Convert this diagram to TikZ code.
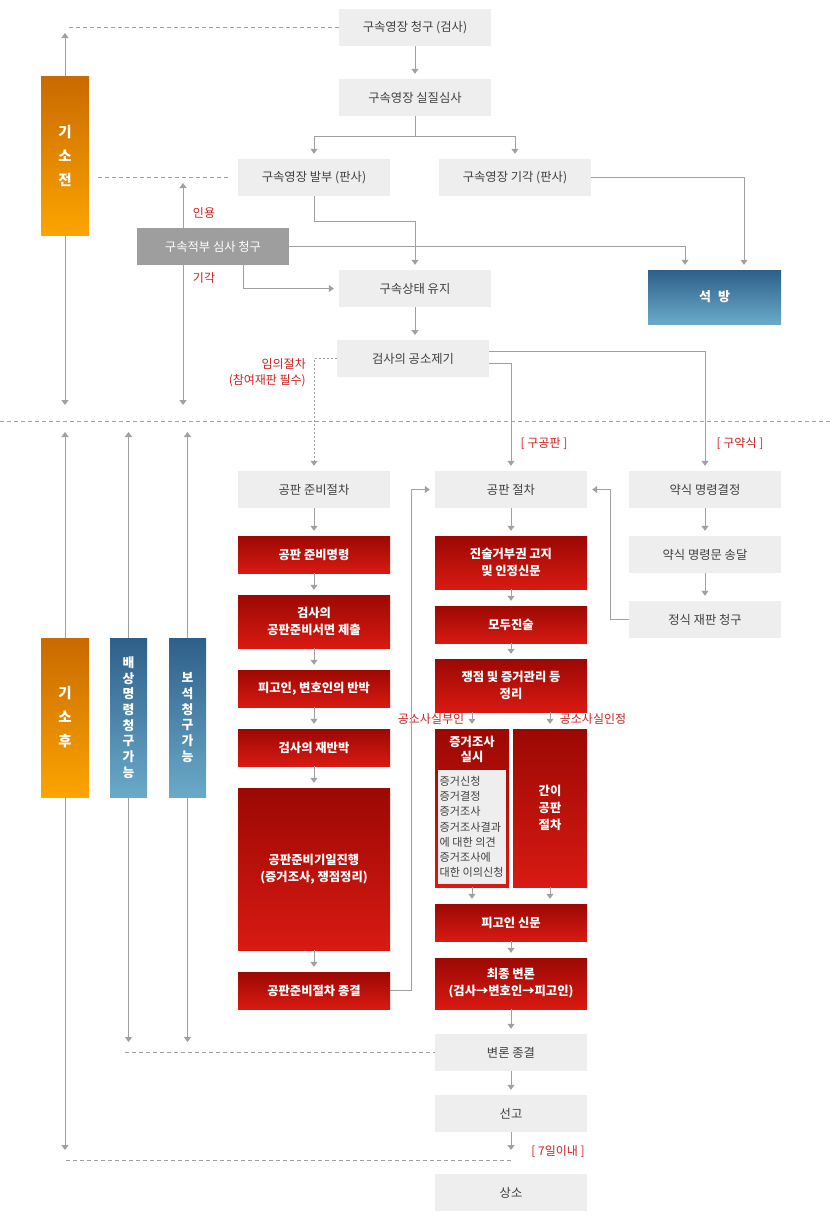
\documentclass[tikz,border=0pt]{standalone}
\usepackage{fontspec}
\setmainfont{Noto Sans CJK KR}
\usetikzlibrary{arrows.meta,shadings}
\definecolor{boxgray}{HTML}{EEEEEE}
\definecolor{txtgray}{HTML}{404040}
\definecolor{lgray}{HTML}{A0A0A0}
\definecolor{rtop}{HTML}{9C0804}
\definecolor{rbot}{HTML}{D81A12}
\definecolor{labred}{HTML}{CC2222}
\definecolor{otop}{HTML}{C86A00}
\definecolor{obot}{HTML}{FCA400}
\definecolor{btop}{HTML}{2E5F8A}
\definecolor{bbot}{HTML}{6AAAC8}
\definecolor{jbgray}{HTML}{9E9E9E}
\begin{document}
\begin{tikzpicture}[x=1pt,y=-1pt,
  gbox/.style={rectangle, fill=boxgray, text=txtgray, minimum width=152pt, minimum height=37pt, inner sep=0pt, align=center, font=\fontsize{12.3}{16}\selectfont},
  rbox/.style={rectangle, top color=rtop, bottom color=rbot, text=white, minimum width=152pt, minimum height=37pt, inner sep=0pt, align=center, font=\bfseries\fontsize{12.3}{17}\selectfont},
  obar/.style={rectangle, top color=otop, bottom color=obot, text=white, minimum width=48pt, minimum height=159pt, inner sep=0pt, align=center, font=\bfseries\fontsize{14.5}{24}\selectfont},
  bbar/.style={rectangle, top color=btop, bottom color=bbot, text=white, minimum width=37pt, minimum height=159pt, inner sep=0pt, align=center, font=\bfseries\fontsize{12.8}{15.7}\selectfont},
  conn/.style={draw=lgray, line width=1pt, -{Triangle[width=7pt,length=5pt]}, shorten >=5pt},
  conn0/.style={conn, shorten >=0pt},
  dline/.style={draw=lgray, line width=0.8pt, dash pattern=on 4pt off 3pt},
  lab/.style={text=labred, inner sep=0pt, font=\fontsize{12}{16.5}\selectfont}]
\useasboundingbox (0,0) rectangle (831,1219);
\fill[white] (0,0) rectangle (831,1219);

% ---------------- before indictment ----------------
\node[gbox] (t1) at (415,27.5) {구속영장 청구 (검사)};
\node[gbox] (t2) at (415,97.5) {구속영장 실질심사};
\node[gbox] (bal) at (314,177.5) {구속영장 발부 (판사)};
\node[gbox] (gi) at (515,177.5) {구속영장 기각 (판사)};
\node[gbox] (yj) at (415,288.5) {구속상태 유지};
\node[gbox] (gs) at (413,358.5) {검사의 공소제기};
\node[rectangle, top color=btop, bottom color=bbot, text=white, minimum width=133pt, minimum height=54pt, inner sep=0pt, font=\bfseries\fontsize{13}{15}\selectfont] (sb) at (714.5,297) {석\hspace{7pt}방};

\coordinate (jup) at (183,183);
\coordinate (jdn) at (183,405);
\draw[conn0] (183,246.5) -- (jup);
\draw[conn0] (183,246.5) -- (jdn);
\node[rectangle, fill=jbgray, text=white, minimum width=152pt, minimum height=37pt, inner sep=0pt, font=\fontsize{12.3}{16}\selectfont] (jb) at (213,246.5) {구속적부 심사 청구};

\node[obar] (kj) at (65,155.5) {기\\소\\전};
\coordinate (kjup) at (65,33);
\coordinate (kjdn) at (65,405);
\draw[conn0] (kj.north) -- (kjup);
\draw[conn0] (kj.south) -- (kjdn);

\draw[dline] (t1.west) -- (66,27.5);
\draw[dline] (98,177.5) -- (229,177.5);

\draw[conn] (t1) -- (t2);
\draw[draw=lgray, line width=1pt] (t2.south) -- (415,136) coordinate (sp);
\draw[conn] (sp) -| (bal.north);
\draw[conn] (sp) -| (gi.north);
\draw[conn] (gi.east) -| ([xshift=29.5pt]sb.north);
\draw[conn] (jb.east) -| ([xshift=-29.5pt]sb.north);
\draw[conn] (bal.south) -- (314,221) -| (yj.north);
\draw[conn] (243,265) |- (yj.west);
\draw[conn] (yj.south) -- (415,340);

\node[lab] (ly) at (204,213) {인용};
\node[lab] (lg) at (204,278) {기각};
\node[lab, anchor=east] (li1) at (306,364) {임의절차};
\node[lab, anchor=east] (li2) at (306,380.5) {(참여재판 필수)};

% divider
\draw[dline] (0,421) -- (831,421);

% ---------------- after indictment ----------------
\node[gbox] (jp) at (314,489.5) {공판 준비절차};
\node[gbox] (gp) at (511,489.5) {공판 절차};
\node[gbox] (ym) at (705,489.5) {약식 명령결정};
\node[gbox] (yb) at (705,554.5) {약식 명령문 송달};
\node[gbox] (js) at (705,619.5) {정식 재판 청구};

\draw[conn, dash pattern=on 2pt off 2pt] (gs.west) -| (jp.north);
\draw[conn] ([yshift=-4.5pt]gs.east) -| (gp.north);
\draw[conn] ([yshift=7.5pt]gs.east) -| (ym.north);

\node[lab] (lgg) at (544,444) {[ 구공판 ]};
\node[lab] (lgy) at (740,444) {[ 구약식 ]};

\node[rbox] (r1) at (314,554.5) {공판 준비명령};
\node[rbox, minimum height=53pt] (r2) at (314,621.5) {검사의\\공판준비서면 제출};
\node[rbox] (r3) at (314,688.5) {피고인, 변호인의 반박};
\node[rbox] (r4) at (314,747.5) {검사의 재반박};
\node[rbox, minimum height=162pt] (r5) at (314,869) {공판준비기일진행\\(증거조사, 쟁점정리)};
\node[rbox] (r6) at (314,990.5) {공판준비절차 종결};

\node[rbox, minimum height=53pt] (c1) at (511,562.5) {진술거부권 고지\\및 인정신문};
\node[rbox] (c2) at (511,624.5) {모두진술};
\node[rbox, minimum height=53pt] (c3) at (511,685.5) {쟁점 및 증거관리 등\\정리};
\node[rbox, minimum width=74pt, minimum height=158pt] (ev) at (472,808) {};
\node[text=white, inner sep=0pt, align=center, font=\bfseries\fontsize{12.3}{15}\selectfont] (evh) at (472,749.5) {증거조사\\실시};
\node[rectangle, fill=boxgray, text=txtgray, minimum width=68pt, minimum height=114pt, inner sep=0pt] (evin) at (472,827) {};
\node[anchor=west, text=txtgray, inner sep=0pt, align=left, font=\fontsize{11.1}{15.2}\selectfont] (evt) at (439.5,827) {증거신청\\증거결정\\증거조사\\증거조사결과\\에 대한 의견\\증거조사에\\대한 이의신청};
\node[rbox, minimum width=74pt, minimum height=158pt] (gan) at (550,808) {간이\\공판\\절차};
\node[rbox] (c4) at (511,922.5) {피고인 신문};
\node[rbox, minimum height=51pt] (c5) at (511,983.5) {최종 변론\\(검사→변호인→피고인)};
\node[gbox] (g1) at (511,1052.5) {변론 종결};
\node[gbox] (g2) at (511,1113.5) {선고};
\node[gbox] (g3) at (511,1192.5) {상소};

\node[lab] (lbu) at (431,719) {공소사실부인};
\node[lab] (lin) at (593,719) {공소사실인정};
\node[lab] (l7) at (558,1152) {[ 7일이내 ]};

\draw[conn] (jp) -- (r1);
\draw[conn] (r1) -- (r2);
\draw[conn] (r2) -- (r3);
\draw[conn] (r3) -- (r4);
\draw[conn] (r4) -- (r5);
\draw[conn] (r5) -- (r6);
\draw[conn] (r6.east) -- (411,990.5) |- (gp.west);

\draw[conn] (gp) -- (c1);
\draw[conn] (c1) -- (c2);
\draw[conn] (c2) -- (c3);
\draw[conn] (ev.north|-c3.south) -- (ev.north);
\draw[conn] (gan.north|-c3.south) -- (gan.north);
\draw[conn] (ev.south) -- (ev.south|-c4.north);
\draw[conn] (gan.south) -- (gan.south|-c4.north);
\draw[conn] (c4) -- (c5);
\draw[conn] (c5) -- (g1);
\draw[conn] (g1) -- (g2);
\coordinate (g2dn) at (511,1150);
\draw[conn0] (g2.south) -- (g2dn);

\draw[conn] (ym) -- (yb);
\draw[conn] (yb) -- (js);
\draw[conn] (js.west) -- (610,619.5) |- (gp.east);

% bars after indictment
\node[obar] (kh) at (65,717.5) {기\\소\\후};
\node[bbar] (bs) at (128.5,717.5) {배\\상\\명\\령\\청\\구\\가\\능};
\node[bbar] (bo) at (187.5,717.5) {보\\석\\청\\구\\가\\능};
\coordinate (khup) at (65,432);
\coordinate (khdn) at (65,1150);
\coordinate (bsup) at (128.5,432);
\coordinate (bsdn) at (128.5,1042);
\coordinate (boup) at (187.5,432);
\coordinate (bodn) at (187.5,1042);
\draw[conn0] (kh.north) -- (khup);
\draw[conn0] (kh.south) -- (khdn);
\draw[conn0] (bs.north) -- (bsup);
\draw[conn0] (bs.south) -- (bsdn);
\draw[conn0] (bo.north) -- (boup);
\draw[conn0] (bo.south) -- (bodn);

\draw[dline] (125,1052.5) -- (g1.west);
\draw[dline] (66,1160) -- (513,1160);
\end{tikzpicture}
\end{document}
